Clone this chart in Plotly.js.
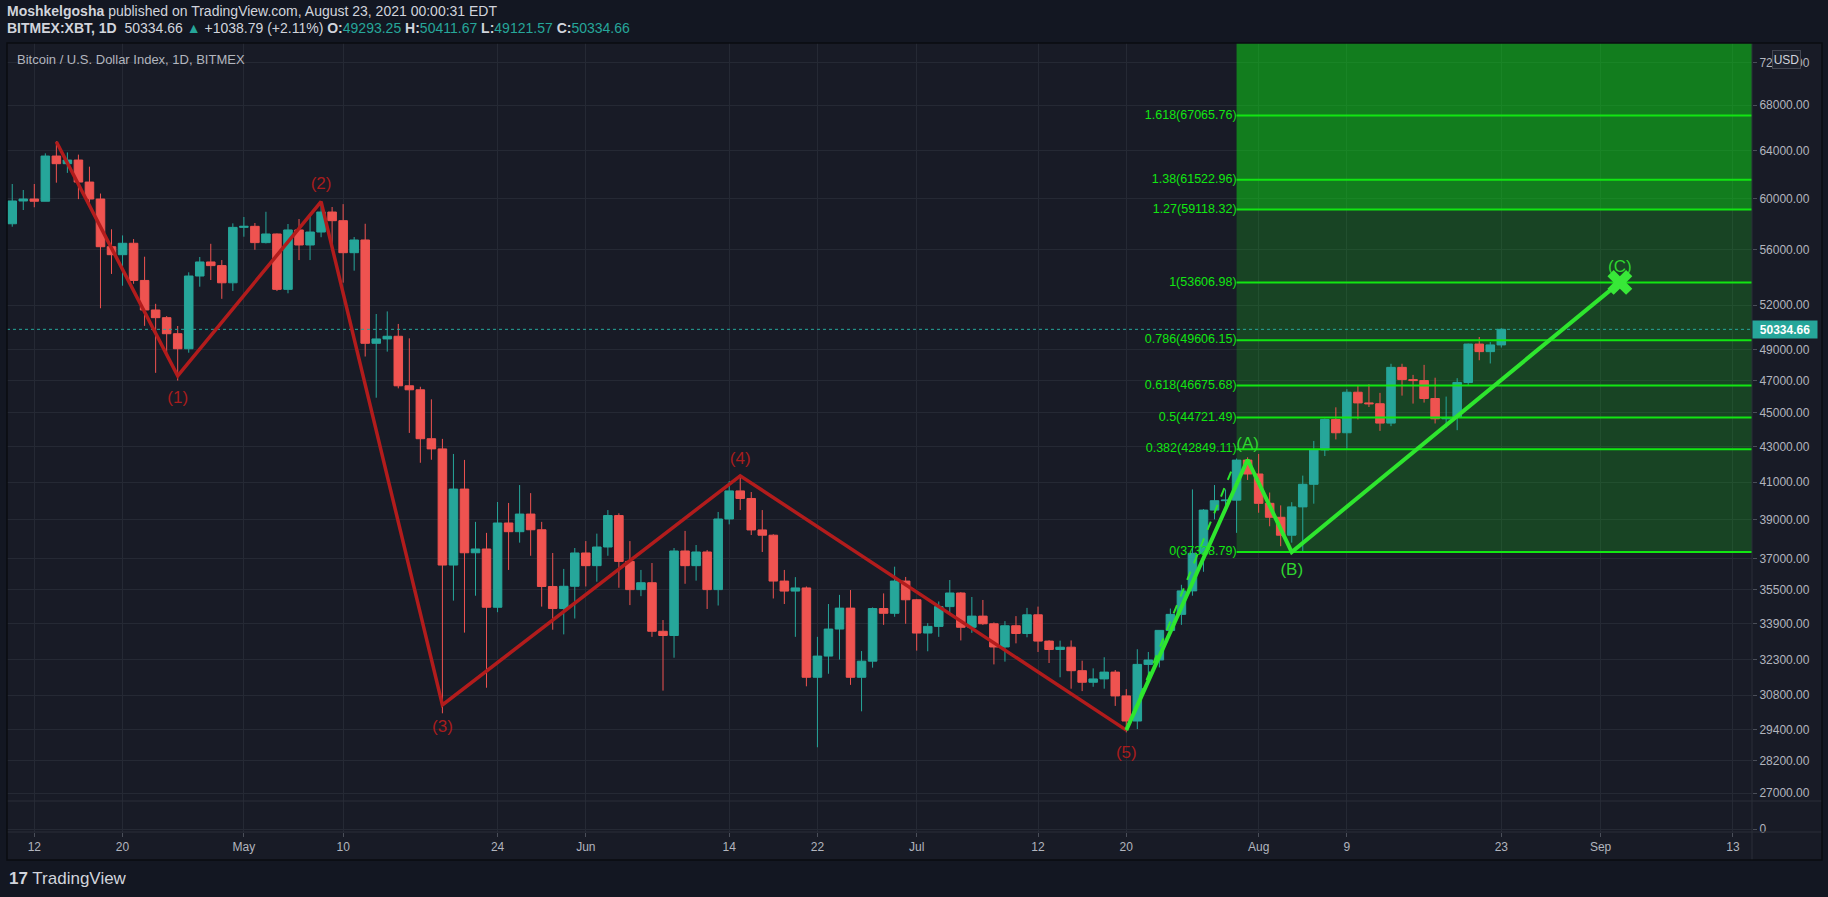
<!DOCTYPE html>
<html><head><meta charset="utf-8">
<script src="https://cdn.plot.ly/plotly-3.0.1.min.js"></script>
<style>html,body{margin:0;padding:0;background:#131722;}#chart{width:1828px;height:897px;}</style>
</head><body><div id="chart"></div>
<script>
// ---------- DATA ----------
const dates = [
'2021-04-10','2021-04-11','2021-04-12','2021-04-13','2021-04-14','2021-04-15','2021-04-16','2021-04-17','2021-04-18','2021-04-19','2021-04-20','2021-04-21','2021-04-22','2021-04-23','2021-04-24','2021-04-25','2021-04-26','2021-04-27','2021-04-28','2021-04-29','2021-04-30',
'2021-05-01','2021-05-02','2021-05-03','2021-05-04','2021-05-05','2021-05-06','2021-05-07','2021-05-08','2021-05-09','2021-05-10','2021-05-11','2021-05-12','2021-05-13','2021-05-14','2021-05-15','2021-05-16','2021-05-17','2021-05-18','2021-05-19','2021-05-20','2021-05-21','2021-05-22','2021-05-23','2021-05-24','2021-05-25','2021-05-26','2021-05-27','2021-05-28','2021-05-29','2021-05-30','2021-05-31',
'2021-06-01','2021-06-02','2021-06-03','2021-06-04','2021-06-05','2021-06-06','2021-06-07','2021-06-08','2021-06-09','2021-06-10','2021-06-11','2021-06-12','2021-06-13','2021-06-14','2021-06-15','2021-06-16','2021-06-17','2021-06-18','2021-06-19','2021-06-20','2021-06-21','2021-06-22','2021-06-23','2021-06-24','2021-06-25','2021-06-26','2021-06-27','2021-06-28','2021-06-29','2021-06-30',
'2021-07-01','2021-07-02','2021-07-03','2021-07-04','2021-07-05','2021-07-06','2021-07-07','2021-07-08','2021-07-09','2021-07-10','2021-07-11','2021-07-12','2021-07-13','2021-07-14','2021-07-15','2021-07-16','2021-07-17','2021-07-18','2021-07-19','2021-07-20','2021-07-21','2021-07-22','2021-07-23','2021-07-24','2021-07-25','2021-07-26','2021-07-27','2021-07-28','2021-07-29','2021-07-30','2021-07-31',
'2021-08-01','2021-08-02','2021-08-03','2021-08-04','2021-08-05','2021-08-06','2021-08-07','2021-08-08','2021-08-09','2021-08-10','2021-08-11','2021-08-12','2021-08-13','2021-08-14','2021-08-15','2021-08-16','2021-08-17','2021-08-18','2021-08-19','2021-08-20','2021-08-21','2021-08-22','2021-08-23'];

const opens = [
58000,59800,59960,59780,63520,62870,63180,61340,59960,56240,55640,56500,53750,51660,51130,50040,49040,54070,55100,54830,53580,
57720,57800,56550,57210,53110,57520,56370,57360,58920,58240,55790,56750,49400,49690,49870,46660,46410,43460,42870,36680,40620,37290,37480,34660,38810,38360,39280,38460,35640,34600,35650,
37280,36650,37580,39200,36860,35490,35820,33560,33370,37380,36650,37330,35490,39020,40520,40110,38450,38180,35900,35420,35570,31550,32460,33660,34620,31550,32240,34600,34380,35900,
35010,33480,33780,34690,35330,33740,34250,33900,32860,33810,33460,34310,33120,32750,32850,31830,31340,31480,31770,30770,29750,32100,32290,33600,34330,35430,37260,39490,39990,40020,42230,
41450,39850,39110,38180,39660,40880,42810,44600,43810,46260,45600,45550,44380,47830,47050,46990,45870,44640,44720,46870,49350,48850,49293.25];
const highs = [
61180,60690,61180,63750,64790,63830,63640,62620,60400,57570,57100,56820,55490,52090,51240,50560,54340,55470,56460,55240,58030,
58530,58060,58940,57250,57980,58370,58690,59550,59320,59550,56980,58000,51380,51560,50700,49730,46600,45820,43450,42580,42240,38870,38300,39920,39870,40840,40400,38870,37280,36490,37530,
37880,38260,39490,39320,37880,36440,36780,34070,37530,38400,37680,37430,39390,41060,41340,40460,39490,38230,36440,36090,35640,33310,34810,35240,35470,32680,34650,35310,36600,36100,
35050,33930,34930,35950,35370,35140,35000,33960,34020,34250,34630,34690,33160,33140,33150,32260,31930,32410,31860,31050,32760,32640,33600,34600,35720,40600,39540,40840,40600,42320,42390,
42580,40430,39740,39910,41360,43330,44650,45330,46450,46700,46760,46220,48060,48060,47350,47990,47170,45990,47140,49380,49820,49480,50411.67];
const lows = [
57770,59080,59300,59780,61290,62100,59950,59660,51780,54220,53370,53510,50570,47480,48720,46990,48780,53300,53780,52440,53000,
57000,56010,56490,52990,52830,55240,55240,56960,56240,53590,54460,48530,45920,48850,46500,43800,42080,42250,30060,34970,33500,35200,31110,34430,36440,37800,37140,34690,33630,33420,34140,
35640,35870,37140,35580,34760,35180,33310,30990,32390,35770,35920,34580,34740,38740,39490,38190,37330,35070,34810,33310,31170,28720,31700,32310,31230,30140,31960,33850,34220,33900,
32700,32670,33310,34360,33150,33490,33850,32100,32220,33020,33290,32640,32160,31550,31070,30970,31150,31070,30360,29300,29430,31670,31970,33400,33850,35200,36350,39000,39360,38300,41120,
39350,38640,37620,37800,37350,39830,42460,43420,42810,44600,45350,43920,44200,46050,45560,45620,44360,44120,43960,46700,48290,48080,49121.57];
const closes = [
59800,59960,59780,63520,62870,63180,61340,59960,56240,55640,56500,53750,51660,51130,50040,49040,54070,55100,54830,53580,57720,
57800,56550,57210,53110,57520,56370,57360,58920,58240,55790,56750,49400,49690,49870,46660,46410,43460,42870,36680,40620,37290,37480,34660,38810,38360,39280,38460,35640,34600,35650,37280,
36650,37580,39200,36860,35490,35820,33560,33370,37380,36650,37330,35490,39020,40520,40110,38450,38180,35900,35420,35570,31550,32460,33660,34620,31550,32240,34600,34380,35900,35010,
33480,33780,34690,35330,33740,34250,33900,32860,33810,33460,34310,33120,32750,32850,31830,31340,31480,31770,30770,29750,32100,32290,33600,34330,35430,37260,39490,39990,40020,42230,41450,
39850,39110,38180,39660,40880,42810,44600,43810,46260,45600,45550,44380,47830,47050,46990,45870,44640,44720,46870,49350,48850,49293.25,50334.66];

// Elliott impulse (red)
const redWaveDates  = ['2021-04-14','2021-04-25','2021-05-08','2021-05-19','2021-06-15','2021-07-20'];
const redWavePrices = [64750, 47290, 59750, 30400, 41350, 29390];
const redWaveLabels = ['', '(1)', '(2)', '(3)', '(4)', '(5)'];
const redWaveLabelPos = ['top center','bottom center','top center','bottom center','top center','bottom center'];

// Corrective ABC (green)
const greenWaveDates  = ['2021-07-20','2021-07-31','2021-08-04','2021-09-02 18:00'];
const greenWavePrices = [29390, 42250, 37328.79, 53606.98];
const greenWaveLabels = ['', '(A)', '(B)', '(C)'];
const greenWaveLabelPos = ['top center','top center','bottom center','top center'];
const dashedDates  = ['2021-07-20','2021-07-29 14:00'];
const dashedPrices = [29390, 41700];

// Fibonacci extension
const fibRatios = ['0','0.382','0.5','0.618','0.786','1','1.27','1.38','1.618'];
const fibPrices = [37328.79, 42849.11, 44721.49, 46675.68, 49606.15, 53606.98, 59118.32, 61522.96, 67065.76];
const fibStart = '2021-07-30';
const fibEnd = '2021-09-30';

// Axes
const priceTicks = [72000,68000,64000,60000,56000,52000,49000,47000,45000,43000,41000,39000,37000,35500,33900,32300,30800,29400,28200,27000];
const timeTickVals = ['2021-04-12','2021-04-20','2021-05-01','2021-05-10','2021-05-24','2021-06-01','2021-06-14','2021-06-22','2021-07-01','2021-07-12','2021-07-20','2021-08-01','2021-08-09','2021-08-23','2021-09-01','2021-09-13'];
const timeTickText = ['12','20','May','10','24','Jun','14','22','Jul','12','20','Aug','9','23','Sep','13'];
const xRange = ['2021-04-09 12:36','2021-09-14 17:30'];
const yRangeLog = [4.42686, 4.86882];

const changeText = '+1038.79 (+2.11%)';

// ---------- BUILD ----------
const n = closes.length;
const last = { o: opens[n-1], h: highs[n-1], l: lows[n-1], c: closes[n-1] };
const UP = '#26a69a', DOWN = '#ef5350';
const RED = '#b21c1c', RED_TXT = '#a81d1d';
const LIME = '#2ee62e', FIB = '#12e612', GTXT = '#2fd62f';
const AXIS_TXT = '#b2b5be', GRID = '#252934', PANE = '#181b26', BORDER = '#2a2e39';
const yTopPrice = Math.pow(10, yRangeLog[1]) * 1.3;

const fibLX = [], fibLY = [];
fibPrices.forEach(p => { fibLX.push(fibStart, fibEnd, null); fibLY.push(p, p, null); });
const idx127 = fibRatios.indexOf('1.27');
const labelSize = (pos, topSize, bottomSize) => pos.indexOf('top') === 0 ? topSize : bottomSize;

const traces = [
  { type:'scatter', mode:'lines', x:dashedDates, y:dashedPrices,
    line:{color:LIME, width:2, dash:'dash'}, hoverinfo:'skip' },
  { type:'candlestick', x:dates, open:opens, high:highs, low:lows, close:closes,
    increasing:{line:{color:UP, width:1}, fillcolor:UP},
    decreasing:{line:{color:DOWN, width:1}, fillcolor:DOWN},
    whiskerwidth:0, hoverinfo:'none', xaxis:'x', yaxis:'y' },
  { type:'scatter', mode:'lines', x:fibLX, y:fibLY, line:{color:FIB, width:2}, hoverinfo:'skip', connectgaps:false },
  { type:'scatter', mode:'text', x:fibPrices.map(() => fibStart), y:fibPrices,
    text:fibPrices.map((p,i) => fibRatios[i] + '(' + p.toFixed(2) + ')'),
    textposition:'middle left',
    textfont:{family:'Liberation Sans, Arial, sans-serif', size:12.5, color:FIB},
    hoverinfo:'skip', cliponaxis:false },
  { type:'scatter', mode:'lines', x:xRange, y:[last.c, last.c],
    line:{color:UP, width:1, dash:'dot'}, hoverinfo:'skip' },
  { type:'scatter', mode:'lines', x:redWaveDates, y:redWavePrices,
    line:{color:RED, width:3.5}, hoverinfo:'skip' },
  { type:'scatter', mode:'markers+text', x:redWaveDates, y:redWavePrices,
    text:redWaveLabels, textposition:redWaveLabelPos,
    marker:{size:redWaveLabelPos.map(p => labelSize(p, 11, 22)), opacity:0},
    textfont:{size:17, color:RED_TXT}, hoverinfo:'skip' },
  { type:'scatter', mode:'lines', x:greenWaveDates, y:greenWavePrices,
    line:{color:LIME, width:4}, hoverinfo:'skip' },
  { type:'scatter', mode:'markers+text', x:greenWaveDates, y:greenWavePrices,
    text:greenWaveLabels, textposition:greenWaveLabelPos,
    marker:{size:greenWaveLabelPos.map(p => labelSize(p, 9, 15)), opacity:0},
    textfont:{size:17, color:GTXT}, hoverinfo:'skip' },
  { type:'scatter', mode:'markers', x:[greenWaveDates[3]], y:[greenWavePrices[3]],
    marker:{symbol:'x', size:22, color:'#38e838', line:{width:0}}, hoverinfo:'skip' }
];

// Layout geometry (pixels)
const L = 7, R = 76, T = 43, B = 65, W = 1828, H = 897;
const pw = W - L - R, ph = H - T - B;
const px = x => (x - L) / pw;
const py = y => (H - B - y) / ph;
const paneSplit = py(801);

const tf = 'Liberation Sans, Arial, sans-serif';
const annotations = [
  { xref:'paper', yref:'paper', x:px(5), y:py(11), xanchor:'left', yanchor:'middle', showarrow:false,
    text:'<b>Moshkelgosha</b> published on TradingView.com, August 23, 2021 00:00:31 EDT',
    font:{family:tf, size:14, color:'#d1d4dc'} },
  { xref:'paper', yref:'paper', x:px(5), y:py(28), xanchor:'left', yanchor:'middle', showarrow:false,
    text:'<b>BITMEX:XBT, 1D</b>  ' + last.c.toFixed(2) + ' <span style="color:'+UP+'">▲</span> ' + changeText +
         ' <b>O:</b><span style="color:'+UP+'">' + last.o.toFixed(2) + '</span>' +
         ' <b>H:</b><span style="color:'+UP+'">' + last.h.toFixed(2) + '</span>' +
         ' <b>L:</b><span style="color:'+UP+'">' + last.l.toFixed(2) + '</span>' +
         ' <b>C:</b><span style="color:'+UP+'">' + last.c.toFixed(2) + '</span>',
    font:{family:tf, size:14, color:'#d1d4dc'} },
  { xref:'paper', yref:'paper', x:px(15), y:py(59.5), xanchor:'left', yanchor:'middle', showarrow:false,
    text:'Bitcoin / U.S. Dollar Index, 1D, BITMEX', font:{family:tf, size:13, color:AXIS_TXT} },
  { xref:'paper', yref:'paper', x:px(1786), y:py(59.5), xanchor:'center', yanchor:'middle', showarrow:false,
    text:'USD', font:{family:tf, size:12, color:'#d1d4dc'}, bgcolor:'#1e222d', bordercolor:'#434651',
    borderwidth:1, borderpad:1, width:25, height:15 },
  { xref:'paper', yref:'y', x:1, y:Math.log10(last.c), xanchor:'left', yanchor:'middle', showarrow:false,
    text:'<b>' + last.c.toFixed(2) + '</b>', font:{family:tf, size:12, color:'#ffffff'},
    bgcolor:UP, width:62, height:15, borderpad:1 },
  { xref:'paper', yref:'paper', x:px(7), y:py(878), xanchor:'left', yanchor:'middle', showarrow:false,
    text:'<b>17</b> TradingView', font:{family:tf, size:17, color:'#d1d4dc'} }
];

const shapes = [
  { type:'rect', xref:'paper', yref:'paper', x0:0, x1:px(1822), y0:py(860), y1:1, fillcolor:PANE,
    line:{width:0}, layer:'below' },
  // Fibonacci zones: above the grid, below the candles
  { type:'rect', xref:'x', yref:'y', x0:fibStart, x1:fibEnd,
    y0:fibPrices[0], y1:fibPrices[idx127],
    fillcolor:'rgba(26,236,30,0.20)', line:{width:0}, layer:'between' },
  { type:'rect', xref:'x', yref:'y', x0:fibStart, x1:fibEnd,
    y0:fibPrices[idx127], y1:yTopPrice,
    fillcolor:'rgba(12,232,24,0.48)', line:{width:0}, layer:'between' },
  { type:'line', xref:'paper', yref:'paper', x0:0, x1:px(1822), y0:paneSplit, y1:paneSplit, line:{color:BORDER, width:1} },
  { type:'line', xref:'paper', yref:'paper', x0:0, x1:px(1822), y0:0, y1:0, line:{color:BORDER, width:1} },
  { type:'line', xref:'paper', yref:'paper', x0:1, x1:1, y0:py(860), y1:1, line:{color:BORDER, width:1} },
  { type:'rect', xref:'paper', yref:'paper', x0:0, x1:px(1822), y0:py(860), y1:1, fillcolor:'rgba(0,0,0,0)',
    line:{color:'#0a0c11', width:1.5} }
];

const layout = {
  width:W, height:H, margin:{l:L, r:R, t:T, b:B, pad:0},
  paper_bgcolor:'#131722', plot_bgcolor:PANE, showlegend:false,
  font:{family:tf, color:AXIS_TXT, size:12},
  boxgap:0.12, boxgroupgap:0.12,
  xaxis:{ type:'date', range:xRange, anchor:'y2', domain:[0,1],
    tickvals:timeTickVals, ticktext:timeTickText, ticks:'outside', ticklen:4, tickcolor:'#4a4e59',
    showgrid:true, gridcolor:GRID, gridwidth:1, showline:false, zeroline:false,
    tickfont:{family:tf, size:12, color:AXIS_TXT}, rangeslider:{visible:false}, fixedrange:true },
  yaxis:{ type:'log', range:yRangeLog, domain:[paneSplit, 1], side:'right', anchor:'x',
    tickvals:priceTicks, ticktext:priceTicks.map(v => v.toFixed(2)), ticks:'outside', ticklen:4,
    tickcolor:'#4a4e59', showgrid:true, gridcolor:GRID, gridwidth:1, zeroline:false, showline:false,
    tickfont:{family:tf, size:12, color:AXIS_TXT}, fixedrange:true },
  yaxis2:{ range:[-0.107, 1], domain:[0, paneSplit], side:'right', anchor:'x',
    tickvals:[0], ticktext:['0'], ticks:'outside', ticklen:4, tickcolor:'#4a4e59',
    showgrid:true, gridcolor:GRID, zeroline:false, showline:false,
    tickfont:{family:tf, size:12, color:AXIS_TXT}, fixedrange:true },
  annotations, shapes
};

// empty trace to activate the lower pane
traces.push({ type:'scatter', mode:'lines', x:[], y:[], xaxis:'x', yaxis:'y2', hoverinfo:'skip' });

Plotly.newPlot('chart', traces, layout, {displayModeBar:false, staticPlot:true});
</script>
</body></html>
